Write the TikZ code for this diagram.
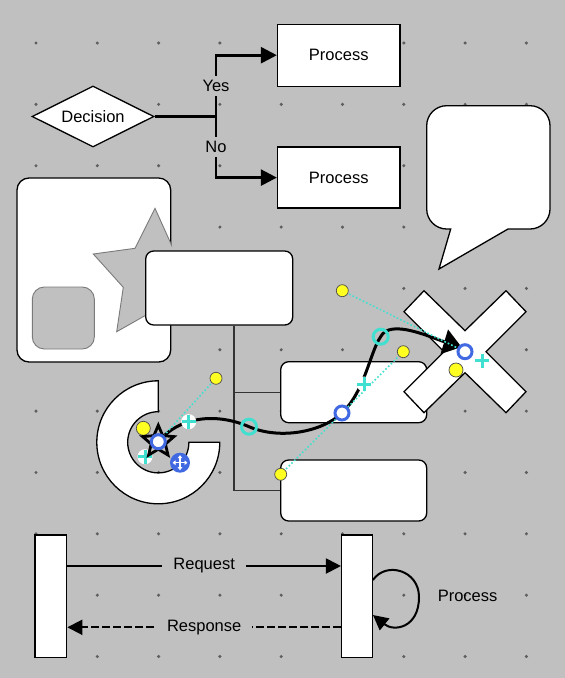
\documentclass[tikz,border=0pt]{standalone}
\usepackage{fontspec}
\setmainfont{Liberation Sans}
\usetikzlibrary{arrows.meta,shapes.geometric}
\definecolor{bg}{HTML}{C0C0C0}
\definecolor{dotc}{HTML}{5E5E5E}
\definecolor{hblue}{HTML}{4169E1}
\definecolor{turq}{HTML}{40E0D0}
\definecolor{hyel}{HTML}{FFFF22}
\definecolor{treec}{HTML}{333333}
\definecolor{holec}{HTML}{7A7A7A}
\begin{document}
\begin{tikzpicture}[x=1pt,y=-1pt,
  font=\fontsize{16.5}{19.8}\selectfont,
  box/.style={draw=black, fill=white, line width=1.3pt, inner sep=0pt},
  rbox/.style={box, rounded corners=8pt},
  flowline/.style={line width=2.6pt},
  flowarrow/.style={line width=2.6pt, -{Triangle[length=16pt,width=16pt]}},
  lbl/.style={fill=bg, inner xsep=1pt, inner ysep=4pt},
  seqlbl/.style={fill=bg, inner xsep=11pt, inner ysep=4pt},
  seqarrow/.style={line width=2pt, -{Triangle[length=15pt,width=15pt]}},
  treeline/.style={draw=treec, line width=1.3pt},
  hole/.style={fill=bg, draw=holec, line width=0.9pt},
  curveedge/.style={line width=3pt, -{Triangle[length=18pt,width=25pt]}},
  guide/.style={draw=turq, line width=1.6pt, dash pattern=on 1.6pt off 2.2pt},
  yhandle/.style={fill=hyel, draw=black!70, line width=0.7pt},
  bhandle/.style={fill=white, draw=hblue, line width=3pt},
  thandle/.style={draw=turq, line width=3pt},
]
% background and bounding box
\path[use as bounding box] (0,0) rectangle (565,678);
\fill[bg] (0,0) rectangle (565,678);
% grid dots
\foreach \i in {0,...,8}{
  \foreach \j in {0,...,10}{
    \fill[dotc] ({36+61.3*\i},{43+61.35*\j}) circle[radius=1.7];
  }
}

% ---------- big rounded box with star cut-out ----------
\draw[box, rounded corners=12pt] (17,178) rectangle (170.7,362);
\begin{scope}
  \clip[rounded corners=12pt] (15.5,176.5) rectangle (172.2,363.5);
  \path[hole] (155,208.3) -- (176,255) -- (230,255) -- (190,300) -- (205,330)
    -- (155,310) -- (116.7,331.7) -- (123.3,287.3) -- (93.3,254) -- (135,248.3) -- cycle;
\end{scope}
\path[hole, rounded corners=12pt] (32.3,287) rectangle (94.3,349);

% ---------- tree ----------
\node[rbox, minimum width=147, minimum height=74] (root) at (219.2,288) {};
\node[rbox, minimum width=146, minimum height=61] (b1) at (353.7,392.2) {};
\node[rbox, minimum width=146, minimum height=61] (b2) at (353.7,490.5) {};
\coordinate (trunk) at (234,0);
\draw[treeline] (root.south -| trunk) -- (trunk |- b2.west) -- (b2.west);
\draw[treeline] (trunk |- b1.west) -- (b1.west);

% ---------- C shape (annulus sector) ----------
\draw[box] (158.3,380.8) arc[start angle=-90, end angle=-360, radius=61.5]
  -- (188.9,442.3) arc[start angle=-360, end angle=-90, radius=30.6] -- cycle;

% ---------- X shape ----------
\coordinate (xc) at (465,351.7);
\draw[box, shift={(465,351.7)}] (-61,-40) -- (-41,-61) -- (0,-21) -- (41,-61) -- (61,-40) -- (21,0)
  -- (61,40) -- (41,61) -- (0,21) -- (-41,61) -- (-61,40) -- (-21,0) -- cycle;

% ---------- speech bubble ----------
\draw[box] (450.7,229) -- (439,269) -- (508,229) -- (530,229)
  arc[start angle=-270, end angle=-360, radius=20] -- (550,125.7)
  arc[start angle=0, end angle=-90, radius=20] -- (446.7,105.7)
  arc[start angle=-90, end angle=-180, radius=20] -- (426.7,209)
  arc[start angle=-180, end angle=-270, radius=20] -- cycle;

% ---------- flowchart ----------
\node[diamond, box, minimum width=122, minimum height=61, aspect=2] (dec) at (93,116.5) {Decision};
\node[box, minimum width=122.5, minimum height=62] (p1) at (338.75,55.2) {Process};
\node[box, minimum width=122.5, minimum height=61] (p2) at (338.75,177.6) {Process};
\coordinate (jn) at (216,116.5);
\draw[flowline] (dec.east) -- (jn);
\draw[flowarrow] (jn) |- node[pos=0.25, lbl] {Yes} (p1.west);
\draw[flowarrow] (jn) |- node[pos=0.25, lbl] {No} (p2.west);

% ---------- sequence ----------
\node[box, minimum width=31.7, minimum height=122.7] (L1) at (50.85,596.35) {};
\node[box, minimum width=30.7, minimum height=122.7] (L2) at (356.95,596.35) {};
\coordinate (rq) at (0,566);
\coordinate (rs) at (0,627.3);
\draw[seqarrow] (L1.east |- rq) -- node[seqlbl] {Request} (L2.west |- rq);
\draw[seqarrow, dash pattern=on 7.5pt off 3.5pt] (L2.west |- rs) -- node[seqlbl] {Response} (L1.east |- rs);
\coordinate (lpa) at (0,580);
\coordinate (lpb) at (0,615);
\draw[seqarrow] (L2.east |- lpa) .. controls (386,561) and (419,570) .. (419,597)
  .. controls (419,628) and (394,632) .. (L2.east |- lpb);
\node (plbl) at (467.6,596) {Process};

% ---------- curved edge with handles ----------
\coordinate (S) at (158.3,441.7);
\coordinate (T1) at (249,426.7);
\coordinate (B2) at (342,413);
\coordinate (T2) at (380.7,336.7);
\coordinate (Y1) at (216,378.3);
\coordinate (Y2) at (143.3,428.3);
\coordinate (Y3) at (280.7,474.3);
\coordinate (Y4) at (342.3,290.7);
\coordinate (Y5) at (403.3,351.7);
\coordinate (Y6) at (456,370);
\draw[curveedge] (S) .. controls (182,414) and (220,414) .. (T1)
  .. controls (280,440) and (322,432) .. (B2)
  .. controls (365,391) and (370,352) .. (T2)
  .. controls (390,318) and (432,338) .. (461.5,347);
\draw[guide] (Y1) -- (S);
\draw[guide] (Y3) -- (Y5);
\draw[guide] (Y4) -- (xc);
\foreach \p in {Y1,Y3,Y4,Y5} \path[yhandle] (\p) circle[radius=6];
\foreach \p in {Y2,Y6} \path[yhandle] (\p) circle[radius=7];
\foreach \p in {T1,T2} \draw[thandle] (\p) circle[radius=7.5];
\foreach \x/\y in {188.7/421.7, 145/456.7, 364/384, 482.3/360.7}{
  \fill[white] (\x,\y) circle[radius=7.5];
  \draw[turq, line width=3pt] (\x-7,\y) -- (\x+7,\y) (\x,\y-7) -- (\x,\y+7);
}
% star icon
\draw[line width=2.8pt, line join=miter, shift={(158.3,441.7)}]
  (-90:16.5) -- (-126:7.5) -- (-162:16.5) -- (-198:7.5) -- (-234:16.5) --
  (-270:7.5) -- (-306:16.5) -- (-342:7.5) -- (-378:16.5) -- (-414:7.5) -- cycle;
\foreach \p in {S,B2,xc} \draw[bhandle] (\p) circle[radius=7];
% move handle
\fill[hblue] (180,462.7) circle[radius=10];
\draw[white, line width=1.3pt, {Triangle[length=3pt,width=4.5pt]}-{Triangle[length=3pt,width=4.5pt]}]
  (172.5,462.7) -- (187.5,462.7);
\draw[white, line width=1.3pt, {Triangle[length=3pt,width=4.5pt]}-{Triangle[length=3pt,width=4.5pt]}]
  (180,455.2) -- (180,470.2);
\end{tikzpicture}
\end{document}
